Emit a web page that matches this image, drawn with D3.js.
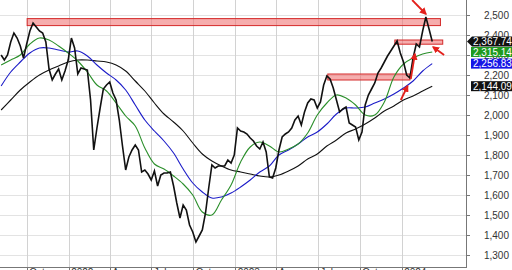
<!DOCTYPE html>
<html><head><meta charset="utf-8">
<script src="https://cdn.jsdelivr.net/npm/d3@7"></script>
<style>html,body{margin:0;padding:0;background:#fff;overflow:hidden}svg{display:block}</style>
</head><body><svg id="c" width="512" height="270"></svg>
<script>
// ---- data ----
const priceStart = "2021-08-06";   // weekly closes
const price = [
 2300,2275,2300,2365,2410,2385,2345,2285,2355,2420,
 2460,2440,2420,2410,2365,2230,2175,2205,2230,2175,
 2220,2275,2385,2335,2205,2235,2230,2225,2075,1825,
 1935,2035,2130,2150,2165,2110,2075,1975,1845,1725,
 1790,1825,1850,1825,1715,1725,1705,1675,1720,1645,
 1700,1710,1710,1715,1645,1560,1485,1550,1525,1450,
 1415,1365,1395,1425,1510,1635,1750,1735,1745,1745,
 1745,1775,1760,1800,1935,1920,1915,1905,1885,1870,
 1845,1830,1865,1815,1690,1685,1735,1825,1890,1905,
 1915,1935,1975,1995,1950,2015,2060,2080,2075,2035,
 2065,2150,2195,2180,2135,2075,2015,2030,2040,1960,
 1950,1940,1875,1915,2050,2100,2130,2160,2210,2235,
 2265,2295,2320,2345,2370,2310,2265,2200,2185,2285,
 2355,2340,2420,2490,2430,2367.74];
// moving averages sampled every 3 weeks from the same start
const maGreen = [2250,2275,2300,2355,2385,2375,2345,2310,2270,2215,
 2150,2120,2060,1995,1945,1835,1755,1730,1695,1655,
 1600,1515,1500,1575,1650,1765,1840,1865,1845,1815,
 1830,1855,1910,2000,2060,2100,2085,2050,2000,2000,
 2065,2190,2255,2285,2305,2315.14];
const maBlue = [2145,2215,2265,2310,2335,2335,2325,2315,2320,2295,
 2250,2210,2175,2125,2050,1975,1920,1870,1810,1730,
 1660,1615,1585,1590,1610,1640,1675,1715,1745,1800,
 1825,1855,1890,1915,1955,2005,2035,2035,2040,2060,
 2080,2105,2135,2170,2220,2256.83];
const maBlack = [2025,2075,2125,2165,2200,2225,2245,2265,2275,2275,
 2270,2265,2250,2220,2170,2120,2060,2005,1965,1920,
 1860,1805,1770,1745,1725,1715,1705,1695,1690,1700,
 1720,1745,1780,1805,1845,1875,1910,1930,1955,1985,
 2020,2045,2075,2095,2120,2144.09];
const yTicks = [1300,1400,1500,1600,1700,1800,1900,2000,2100,2200,2300,2400,2500];
const xTickDates = ["2021-10-01","2022-01-01","2022-04-01","2022-07-01","2022-10-01",
 "2023-01-01","2023-04-01","2023-07-01","2023-10-01","2024-01-01"];
const xTickLabels = ["Oct","2022","Apr","Jul","Oct","2023","Apr","Jul","Oct","2024"];
const zoneStart = ["2021-10-02","2023-12-17","2023-07-23"];
const zoneEnd   = ["2024-03-26","2024-03-31","2024-01-19"];
const zoneLow   = [2447,2354,2175];
const zoneHigh  = [2482,2375,2205];
const arrowFromDate = ["2024-01-24","2024-04-03","2023-12-30","2024-01-21"];
const arrowFromVal  = [2575,2300,2075,2180];
const arrowToDate   = ["2024-02-23","2024-03-10","2024-01-14","2024-01-30"];
const arrowToVal    = [2505,2340,2145,2305];

// ---- setup ----
const parse = d3.timeParse("%Y-%m-%d");
const plotR = 466, plotB = 267;
const svg = d3.select("#c");
const x = d3.scaleTime().domain([new Date(2021,7,3,12), new Date(2024,4,21)]).range([0, plotR]);
const y = d3.scaleLinear().domain([2575, 1240]).range([0, plotB]);
const font = "'Liberation Sans', Arial, sans-serif";
const t0 = parse(priceStart);
const priceData = price.map((v,i)=>({d:d3.timeDay.offset(t0, 7*i), v}));
const maData = arr => arr.map((v,i)=>({d:d3.timeDay.offset(t0, 21*i), v}));

svg.append("rect").attr("width",512).attr("height",270).attr("fill","#fff");
svg.append("defs").call(d=>{
  d.append("clipPath").attr("id","clip").append("rect").attr("x",0).attr("y",0).attr("width",plotR).attr("height",plotB);
  d.append("marker").attr("id","ah").attr("viewBox","0 0 10 10").attr("refX",8).attr("refY",5)
   .attr("markerWidth",4).attr("markerHeight",4).attr("orient","auto").attr("markerUnits","strokeWidth")
   .append("path").attr("d","M0,0L10,5L0,10Z").attr("fill","#e3201b");
});

// grid
const g = svg.append("g");
g.selectAll("line.h").data(yTicks).join("line")
 .attr("x1",0).attr("x2",plotR).attr("y1",d=>Math.round(y(d))+0.5).attr("y2",d=>Math.round(y(d))+0.5)
 .attr("stroke","#e3e3e3").attr("stroke-width",1);
g.selectAll("line.v").data(xTickDates).join("line")
 .attr("x1",d=>Math.round(x(parse(d)))+0.5).attr("x2",d=>Math.round(x(parse(d)))+0.5)
 .attr("y1",0).attr("y2",plotB).attr("stroke","#d2d2d2").attr("stroke-width",1);

const plot = svg.append("g").attr("clip-path","url(#clip)");
// zones
plot.selectAll("rect.z").data(zoneStart).join("rect")
 .attr("x",(d,i)=>x(parse(d))).attr("width",(d,i)=>x(parse(zoneEnd[i]))-x(parse(d)))
 .attr("y",(d,i)=>y(zoneHigh[i])).attr("height",(d,i)=>y(zoneLow[i])-y(zoneHigh[i]))
 .attr("fill","rgba(238,105,105,0.55)").attr("stroke","#d42a2a").attr("stroke-width",1);

const line = d3.line().x(d=>x(d.d)).y(d=>y(d.v));
const smooth = d3.line().x(d=>x(d.d)).y(d=>y(d.v)).curve(d3.curveCatmullRom.alpha(0.5));
plot.append("path").datum(maData(maBlack)).attr("d",smooth).attr("fill","none").attr("stroke","#111").attr("stroke-width",1.1);
plot.append("path").datum(maData(maBlue)).attr("d",smooth).attr("fill","none").attr("stroke","#1c1cc8").attr("stroke-width",1.1);
plot.append("path").datum(maData(maGreen)).attr("d",smooth).attr("fill","none").attr("stroke","#2b8f2b").attr("stroke-width",1.1);
plot.append("path").datum(priceData).attr("d",line).attr("fill","none").attr("stroke","#111").attr("stroke-width",1.6).attr("stroke-linejoin","miter");

// arrows
plot.selectAll("line.a").data(arrowFromDate).join("line")
 .attr("x1",d=>x(parse(d))).attr("y1",(d,i)=>y(arrowFromVal[i]))
 .attr("x2",(d,i)=>x(parse(arrowToDate[i]))).attr("y2",(d,i)=>y(arrowToVal[i]))
 .attr("stroke","#e3201b").attr("stroke-width",1.8).attr("marker-end","url(#ah)");

// axes lines
svg.append("line").attr("x1",plotR+0.5).attr("x2",plotR+0.5).attr("y1",0).attr("y2",plotB+1).attr("stroke","#777");
svg.append("line").attr("x1",0).attr("x2",plotR+1).attr("y1",plotB+0.5).attr("y2",plotB+0.5).attr("stroke","#777");
// y ticks
svg.selectAll("line.yt").data(yTicks).join("line")
 .attr("x1",plotR).attr("x2",plotR+4).attr("y1",d=>Math.round(y(d))+0.5).attr("y2",d=>Math.round(y(d))+0.5).attr("stroke","#777");
svg.selectAll("text.yl").data(yTicks).join("text")
 .attr("x",509).attr("y",d=>y(d)).attr("dy","0.35em").attr("text-anchor","end")
 .attr("font-family",font).attr("font-size",10).attr("fill","#333").text(d=>d3.format(",")(d));
// x ticks
svg.selectAll("line.xt").data(xTickDates).join("line")
 .attr("x1",d=>Math.round(x(parse(d)))+0.5).attr("x2",d=>Math.round(x(parse(d)))+0.5)
 .attr("y1",plotB).attr("y2",plotB+4).attr("stroke","#777");
svg.selectAll("text.xl").data(xTickDates).join("text")
 .attr("x",d=>x(parse(d))+2.5).attr("y",plotB+9)
 .attr("font-family",font).attr("font-size",10).attr("fill","#333").text((d,i)=>xTickLabels[i]);

// last-value labels
const lastVals = [maBlack[maBlack.length-1], maBlue[maBlue.length-1], maGreen[maGreen.length-1], price[price.length-1]];
const lastCols = ["#111","#1616e6","#1f9a1f","#111"];
lastVals.forEach((v,i)=>{
  const cy = y(v);
  if (i===3) {
    svg.append("path").attr("d",`M${plotR+1},${cy} L${plotR+6},${cy-5} L512,${cy-5} L512,${cy+5} L${plotR+6},${cy+5} Z`).attr("fill",lastCols[i]);
  } else {
    svg.append("rect").attr("x",471).attr("y",cy-5).attr("width",41).attr("height",10).attr("fill",lastCols[i]);
  }
  svg.append("text").attr("x",473).attr("y",cy).attr("dy","0.36em").attr("font-family",font)
   .attr("font-size",10).attr("fill","#fff").text(d3.format(",.2f")(v));
});
</script></body></html>
